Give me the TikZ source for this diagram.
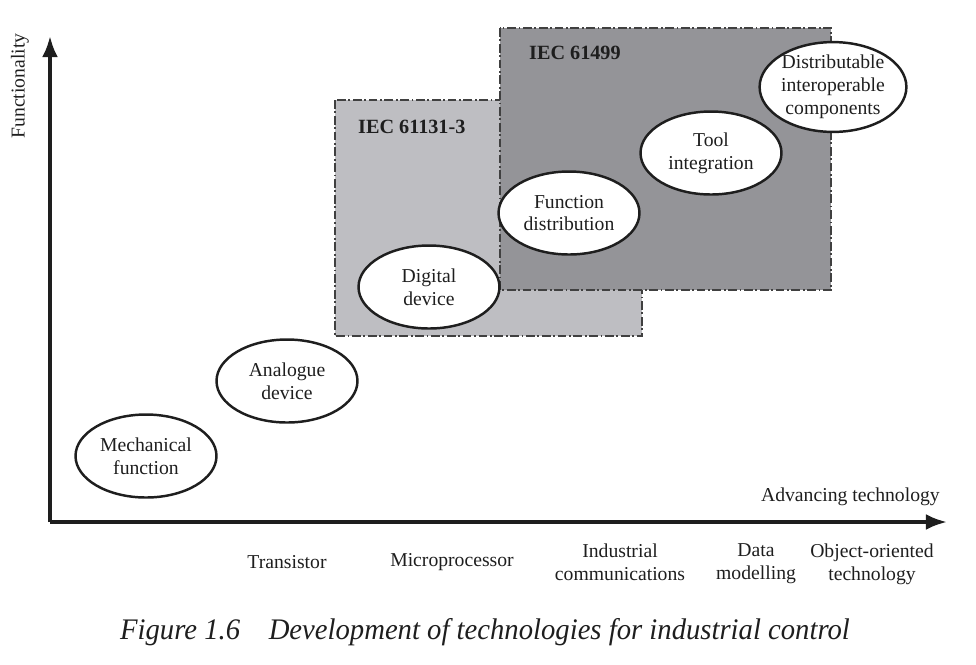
\documentclass[tikz,border=0pt]{standalone}
\usepackage{fontspec}
\setmainfont{Liberation Serif}
\usepackage{graphicx}
\usetikzlibrary{arrows.meta,shapes.geometric}

\definecolor{lightbox}{RGB}{190,190,194}
\definecolor{darkbox}{RGB}{148,148,152}
\definecolor{ink}{RGB}{30,30,30}

\tikzset{
  stage/.style = {ellipse, draw = ink, line width = 1.4pt, fill = white,
    inner sep = 0pt, minimum width = 2.82cm, minimum height = 1.66cm,
    align = center, text = ink, font = \fontsize{11.2}{13}\selectfont},
  era/.style = {draw = black!75, line width = 0.8pt,
    dash pattern = on 5pt off 1.5pt on 1pt off 1.5pt},
  standard/.style = {anchor = west, text = ink, font = \fontsize{11.5}{13}\selectfont\bfseries},
  tech/.style = {align = center, text = ink, font = \fontsize{11.2}{13}\selectfont},
  axis/.style = {line width = 2pt, draw = ink, -{Latex[length = 12pt, width = 9pt]}}
}

\begin{document}
\begin{tikzpicture}[x = 0.02cm, y = -0.02cm]
            \useasboundingbox (0,0) rectangle (976,664);

            % standards
            \draw [era, fill = lightbox] (335,100) rectangle (642,336);
            \draw [era, fill = darkbox] (500,28) rectangle (831,290);
            \node [standard] (iecA) at (352,127) {IEC 61131-3};
            \node [standard] (iecB) at (523,53) {IEC 61499};

            % axes
            \coordinate (origin) at (50,522);
            \coordinate (ytip) at (50,36);
            \coordinate (xtip) at (947,522);
            \draw [axis] (origin) -- (ytip);
            \draw [axis] (origin) -- (xtip);
            \node [tech, rotate = 90] (func) at (20,86) {Functionality};
            \node [tech, anchor = east] (adv) at (946,497) {Advancing technology};

            % stages
            \node [stage] (mech) at (146,456) {Mechanical\\function};
            \node [stage] (analog) at (287,381) {Analogue\\device};
            \node [stage] (digital) at (429,287) {Digital\\device};
            \node [stage] (distr) at (569,213) {Function\\distribution};
            \node [stage] (tool) at (711,153) {Tool\\integration};
            \node [stage] (comp) at (833,87) {Distributable\\interoperable\\components};

            % technologies
            \node [tech] (trans) at (287,562) {Transistor};
            \node [tech] (micro) at (452,562) {Microprocessor};
            \node [tech] (comm) at (620,562) {Industrial\\communications};
            \node [tech] (data) at (756,564) {Data\\modelling};
            \node [tech] (oot) at (872,564) {Object-oriented\\technology};

            \node [text = ink, font = \fontsize{17}{20}\selectfont\itshape] (caption) at (485,632)
            {\scalebox{0.96}[1]{Figure 1.6\quad Development of technologies for industrial control}};
        \end{tikzpicture}
\end{document}
